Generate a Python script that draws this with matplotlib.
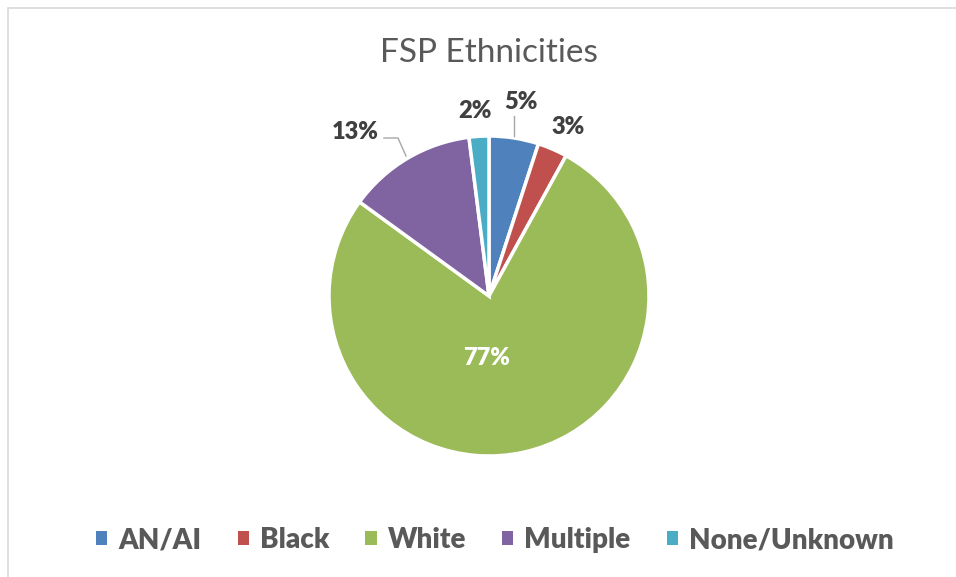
import matplotlib.pyplot as plt
from matplotlib.patches import Rectangle, Patch

labels = ["AN/AI", "Black", "White", "Multiple", "None/Unknown"]
values = [5, 3, 77, 13, 2]
colors = ["#4F81BD", "#C0504D", "#9BBB59", "#8064A2", "#4BACC6"]

plt.rcParams['font.family'] = ['Lato', 'DejaVu Sans']

W, H = 956, 577
fig = plt.figure(figsize=(W / 100, H / 100), dpi=100)
fig.patch.set_facecolor("white")

# light gray chart border
fig.add_artist(Rectangle((8 / W, -0.01), 1.0, 1 - 8 / H + 0.01, transform=fig.transFigure,
                         fill=False, edgecolor="#D9D9D9", linewidth=1.2))

cx, cy, R = 489, 296, 160
box = 200
ax = fig.add_axes([(cx - box) / W, (H - cy - box) / H, 2 * box / W, 2 * box / H])

wedges, _ = ax.pie(values, colors=colors, startangle=90, counterclock=False,
                   radius=1, wedgeprops=dict(edgecolor="white", linewidth=2.5))
ax.set_xlim(-box / R, box / R)
ax.set_ylim(-box / R, box / R)
ax.axis("off")

def px(x, y):
    return (x - cx) / R, (cy - y) / R

# data labels (positions in picture pixels)
label_pos = [(521, 102), (568, 127), (487, 358), (355, 132), (475, 111)]
for v, (lx, ly), c in zip(values, label_pos, ["#404040", "#404040", "white", "#404040", "#404040"]):
    ax.text(*px(lx, ly), f"{v}%", ha="center", va="center", fontsize=17,
            fontweight="heavy", color=c)

# leader lines
ax.plot(*zip(px(514, 116), px(514, 136)), color="#A6A6A6", lw=1)
ax.plot(*zip(px(384, 138), px(398, 138), px(406, 156)), color="#A6A6A6", lw=1)

fig.text(cx / W, 1 - 53 / H, "FSP Ethnicities", ha="center", va="center",
         fontsize=24, color="#595959")

handles = [Patch(facecolor=c, edgecolor="none") for c in colors]
fig.legend(handles, labels, loc="center", bbox_to_anchor=(495 / W, 1 - 540 / H), ncol=5,
           frameon=False, prop=dict(size=20, weight="heavy"), labelcolor="#595959",
           handlelength=0.4, handleheight=0.4, handletextpad=0.4, columnspacing=1.3)

fig.savefig("out.png", dpi=100)
